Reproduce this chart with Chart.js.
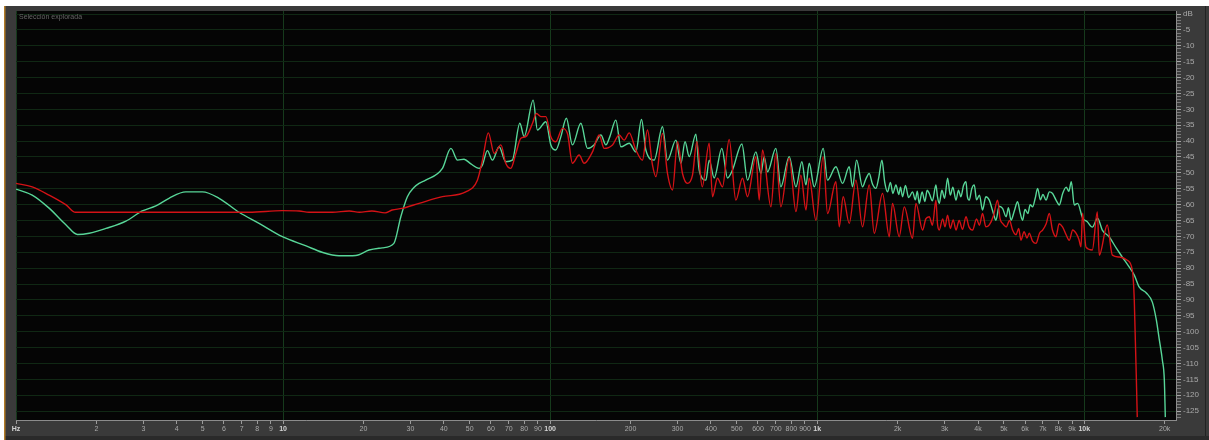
<!DOCTYPE html>
<html><head><meta charset="utf-8">
<script src="https://cdn.jsdelivr.net/npm/chart.js@4.4.0/dist/chart.umd.min.js"></script>
<style>
html,body{margin:0;padding:0;background:#fff;}
#wrap{position:relative;width:1209px;height:440px;overflow:hidden;}
#label{position:absolute;left:19px;top:13px;font:7px "Liberation Sans",Arial,sans-serif;color:#666;white-space:nowrap;}
</style></head><body>
<div id="wrap"><canvas id="c" width="1209" height="440"></canvas><div id="label">Selección explorada</div></div>
<script>
// ---- data (frequency in Hz, level in dB) ----
const greenFreq = [
 1, 1.15, 1.33, 1.54, 1.7, 1.88, 2.17, 2.58, 2.97, 3.34,
 3.74, 4.32, 4.99, 5.76, 6.84, 8.13, 9.94, 12.2, 14.0, 16.2,
 18.7, 21.0, 23.5, 26.0, 27.6, 29.2, 30.9, 32.3,
 34.2, 39.5, 42.5, 45.0, 47.6, 50.5, 54.2, 55.8, 58.2, 60.8,
 64.4, 68.2, 72.2, 77.0, 79.9, 86.4, 89.6, 96.4, 100.6, 105,
 109.7, 115, 121.2, 130.3, 138, 146, 154.9, 161.7, 167.3, 176.2,
 184, 197.7, 209.4, 219.8, 228.2, 245.2, 263.4, 275, 295.7, 308.8,
 320, 331.6, 351.3, 361.4, 383, 394, 411.4, 439.5, 461.3, 481.7,
 522.4, 548.3, 589.4, 615.3, 633, 651.6, 700, 731, 785.5, 832.4,
 876.3, 907.3, 933.3, 974.5, 1053, 1093, 1175, 1244, 1318, 1356,
 1404, 1478, 1520, 1566, 1610, 1659, 1700, 1747, 1790, 1834,
 1880, 1920, 1971, 2020, 2050, 2087, 2140, 2200, 2275, 2330,
 2370, 2410, 2470, 2530, 2580, 2628, 2700, 2783, 2820, 2864,
 2930, 3000, 3077, 3150, 3220, 3308, 3380, 3450, 3530, 3606,
 3650, 3709, 3790, 3873, 3950, 4050, 4159, 4280, 4409, 4540,
 4670, 4800, 4943, 5100, 5200, 5316, 5470, 5627, 5750, 5874,
 6000, 6150, 6270, 6405, 6550, 6687, 6850, 7000, 7190, 7400,
 7608, 7830, 8061, 8300, 8562, 8750, 8941, 9175, 9441, 9853,
 10261, 10715, 11215, 11680, 12406, 13180, 13880, 14740, 15390, 16070,
 17070, 17980, 18610, 19100, 19600, 19940, 20110
];
const greenDb = [
 -55.1, -57.0, -61.1, -66.4, -69.4, -69.0, -67.5, -65.2, -62.0, -60.4,
 -58.0, -56.0, -56.0, -58.0, -62.4, -65.9, -70.1, -73.0, -75.0, -76.1,
 -76.0, -74.3, -73.6, -72.2, -63.8, -57.5, -54.6, -53.3,
 -52.3, -48.6, -42.3, -46.0, -45.7, -47.2, -48.6, -47.5, -43.0, -46.0,
 -41.8, -46.5, -46.0, -34.4, -38.6, -27.1, -36.5, -33.9, -41.2, -42.8,
 -38.6, -32.8, -41.2, -34.4, -42.3, -41.2, -38.1, -41.2, -38.6, -33.4,
 -41.8, -40.7, -43.4, -33.2, -42.8, -46.0, -35.5, -46.0, -39.7, -47.0,
 -40.2, -44.9, -37.8, -49.1, -52.3, -46.0, -51.6, -42.3, -51.6, -49.1,
 -40.9, -52.3, -43.4, -50.2, -45.0, -49.7, -42.3, -54.4, -44.9, -54.4,
 -46.5, -53.8, -47.0, -54.4, -42.3, -52.3, -48.1, -53.3, -48.1, -54.4,
 -46.0, -54.4, -52.0, -50.2, -53.5, -54.9, -51.5, -46.0, -53.0, -56.0,
 -53.0, -56.5, -53.8, -56.8, -54.5, -57.5, -54.0, -57.8, -56.0, -58.5,
 -55.8, -59.6, -56.0, -59.0, -55.5, -56.5, -58.8, -53.8, -57.5, -59.6,
 -55.5, -58.0, -51.7, -57.0, -54.5, -58.6, -55.5, -57.5, -54.0, -52.8,
 -57.5, -58.6, -55.0, -53.8, -58.5, -57.0, -61.7, -57.5, -58.6, -62.0,
 -64.9, -60.5, -61.2, -63.8, -61.0, -64.9, -62.0, -59.1, -62.5, -64.9,
 -61.5, -62.8, -60.0, -60.7, -58.0, -54.9, -58.5, -56.8, -58.6, -56.0,
 -56.5, -58.5, -60.1, -56.5, -54.5, -55.8, -52.8, -60.1, -59.6, -64.2,
 -65.4, -67.1, -64.3, -68.0, -70.2, -73.7, -76.5, -79.7, -82.2, -86.0,
 -87.8, -90.7, -96.3, -102.6, -108.9, -115.2, -126.9
];
const redFreq = [
 1, 1.15, 1.33, 1.54, 1.67, 3.15, 7.46, 9.92, 11.5, 12.5,
 15.3, 17.7, 19.3, 21.5, 24.1, 25.6, 27.9, 32.3, 39.5, 48.3,
 53.4, 55.8, 58.7, 61.7, 65.4, 68.2, 71.2, 74.4, 77.7, 81.1,
 85.9, 88.9, 92.3, 96.4, 100.6, 105, 111.2, 116.1, 121.2, 128.4,
 134.1, 144, 152.6, 159.3, 171.2, 181.3, 189.3, 197.7, 209.4, 221.6,
 231.4, 241.6, 248.8, 263.4, 275, 287.1, 299.9, 313, 326.8, 341.2,
 354.3, 371, 394, 405.5, 423.3, 441.9, 468.1, 496, 525, 548.3,
 589.4, 606.6, 624, 670.8, 700, 731, 785.5, 832.4, 868.7, 907.3,
 933.3, 988.8, 1053, 1093, 1175, 1209, 1251, 1318, 1396, 1478,
 1566, 1635, 1756, 1861, 1914, 2028, 2118, 2275, 2342,
 2480, 2550, 2628, 2700, 2783, 2820, 2864, 2950, 3010, 3077,
 3150, 3230, 3308, 3400, 3500, 3606, 3700, 3817, 3950, 4050,
 4159, 4280, 4409, 4570, 4735, 4840, 4943, 5100, 5250, 5389,
 5550, 5680, 5794, 5950, 6100, 6223, 6400, 6592, 6800, 6983,
 7200, 7395, 7600, 7834, 8050, 8290, 8550, 8786, 9050, 9312,
 9550, 9719, 9853, 10150, 10715, 11190, 11380, 12190, 12740, 13530,
 14490, 15130, 15390, 15790
];
const redDb = [
 -53.3, -54.4, -57.0, -60.1, -62.4, -62.4, -62.4, -61.9, -62.0, -62.4,
 -62.4, -62.0, -62.4, -62.0, -62.6, -61.7, -61.2, -59.6, -57.5, -56.0,
 -52.3, -46.0, -37.4, -43.9, -41.2, -47.0, -48.6, -43.9, -39.1, -38.6,
 -34.4, -31.3, -32.3, -32.3, -38.6, -40.2, -36.0, -37.6, -47.0, -44.4,
 -47.0, -43.4, -38.1, -42.3, -41.2, -38.1, -39.7, -37.4, -42.8, -46.0,
 -36.5, -47.5, -51.2, -37.6, -50.2, -55.4, -40.2, -50.2, -53.3, -50.7,
 -40.2, -54.4, -40.7, -57.5, -51.7, -54.4, -39.5, -58.6, -51.7, -57.5,
 -44.9, -58.6, -42.8, -60.7, -43.9, -60.7, -45.4, -62.2, -50.7, -61.7,
 -51.7, -64.9, -44.9, -62.8, -52.8, -67.0, -57.5, -65.9, -52.3, -67.0,
 -53.8, -69.0, -56.5, -70.1, -59.6, -70.1, -60.7, -70.6, -59.6,
 -68.0, -64.5, -63.8, -66.5, -58.6, -66.0, -68.0, -64.5, -67.0, -63.3,
 -67.5, -64.8, -68.0, -65.0, -67.8, -63.8, -67.0, -68.0, -64.5, -66.5,
 -62.8, -67.0, -66.4, -63.5, -58.6, -64.5, -65.9, -67.0, -65.0, -68.0,
 -69.5, -67.5, -71.2, -68.5, -70.5, -69.0, -71.5, -72.2, -69.0, -68.0,
 -66.0, -62.8, -68.0, -70.1, -66.0, -67.0, -69.5, -71.2, -68.0, -69.0,
 -71.0, -73.3, -62.7, -73.4, -74.3, -62.3, -75.9, -66.4, -75.9, -76.5,
 -77.5, -80.6, -90.1, -126.9
];
const xTickValues = [1,2,3,4,5,6,7,8,9,10,20,30,40,50,60,70,80,90,100,200,300,400,500,600,700,800,900,1000,2000,3000,4000,5000,6000,7000,8000,9000,10000,20000];
const xTickLabels = ['Hz','2','3','4','5','6','7','8','9','10','20','30','40','50','60','70','80','90','100','200','300','400','500','600','700','800','900','1k','2k','3k','4k','5k','6k','7k','8k','9k','10k','20k'];
const decadeValues = [1,10,100,1000,10000];
const yTop = 0.95, yBottom = -127.8, yStep = 5;

// ---- helpers ----
function pts(f, d){ const n = Math.min(f.length, d.length); const out=[]; for(let i=0;i<n;i++) out.push({x:f[i], y:d[i]}); return out; }
function isDecade(v){ return decadeValues.some(d => Math.abs(v - d) < 1e-6 * d); }
const gridGreen = 'rgb(16,40,20)';
const decadeGreen = 'rgb(22,58,28)';

const bg = {
  id:'bg',
  beforeDraw(chart){
    const {ctx, chartArea:a, width, height} = chart;
    ctx.save();
    ctx.fillStyle = '#ffffff'; ctx.fillRect(0,0,width,height);
    ctx.fillStyle = '#3a3a3a'; ctx.fillRect(4,6,width-4,height-6);
    ctx.fillStyle = '#2a2a2a'; ctx.fillRect(4,436,width-4,4);
    ctx.fillStyle = '#b27b26'; ctx.fillRect(4,6,1.5,height-6);
    ctx.fillStyle = '#222222'; ctx.fillRect(1205,6,1,430);
    ctx.fillStyle = '#050505'; ctx.fillRect(a.left,a.top,a.right-a.left,a.bottom-a.top);
    ctx.restore();
  }
};

new Chart(document.getElementById('c'), {
  type:'line',
  data:{
    datasets:[
      {label:'L', data:pts(redFreq, redDb), borderColor:'rgb(212,18,22)', borderWidth:1.4, pointRadius:0, fill:false, cubicInterpolationMode:'monotone'},
      {label:'R', data:pts(greenFreq, greenDb), borderColor:'rgb(88,214,152)', borderWidth:1.4, pointRadius:0, fill:false, cubicInterpolationMode:'monotone'}
    ]
  },
  options:{
    responsive:false, animation:false, devicePixelRatio:1,
    layout:{padding:{left:16, top:11, right:0, bottom:0}},
    plugins:{legend:{display:false}, tooltip:{enabled:false}},
    scales:{
      x:{
        type:'logarithmic', position:'bottom', min:1, max:22050,
        afterBuildTicks:s=>{ s.ticks = xTickValues.map(v=>({value:v})); },
        afterFit:s=>{ s.height = 20; },
        ticks:{
          autoSkip:false, maxRotation:0, minRotation:0, padding:1,
          color:c=> (c.tick && isDecade(c.tick.value)) ? '#d4d4d4' : '#a9a9a9',
          font:c=>({size:7, family:'"Liberation Sans", Arial, sans-serif', weight: (c.tick && isDecade(c.tick.value)) ? 'bold':'normal'}),
          callback:(v,i)=> xTickLabels[i]
        },
        grid:{
          color:c=> (c.tick && isDecade(c.tick.value)) ? decadeGreen : 'rgba(0,0,0,0)',
          tickColor:'#9c9c9c', tickLength:4, drawTicks:true, lineWidth:1
        },
        border:{color:'#8c8c8c', width:1}
      },
      y:{
        position:'right', min:yBottom, max:yTop,
        afterBuildTicks:s=>{ const t=[]; for(let v=0; v>=-127; v--) t.push({value:v}); s.ticks=t; },
        afterFit:s=>{ s.width = 33; },
        ticks:{
          autoSkip:false, padding:2, color:'#a9a9a9',
          font:{size:8, family:'"Liberation Sans", Arial, sans-serif'},
          callback:v=> (v % yStep === 0) ? (v === 0 ? 'dB' : String(v)) : ''
        },
        grid:{
          color:c=> (c.tick && c.tick.value % yStep === 0) ? gridGreen : 'rgba(0,0,0,0)',
          tickColor:c=> (c.tick && c.tick.value % yStep === 0) ? '#a4a4a4' : '#7a7a7a',
          tickLength:5, lineWidth:1
        },
        border:{color:'#8c8c8c', width:1}
      }
    }
  },
  plugins:[bg]
});
</script>
</body></html>
